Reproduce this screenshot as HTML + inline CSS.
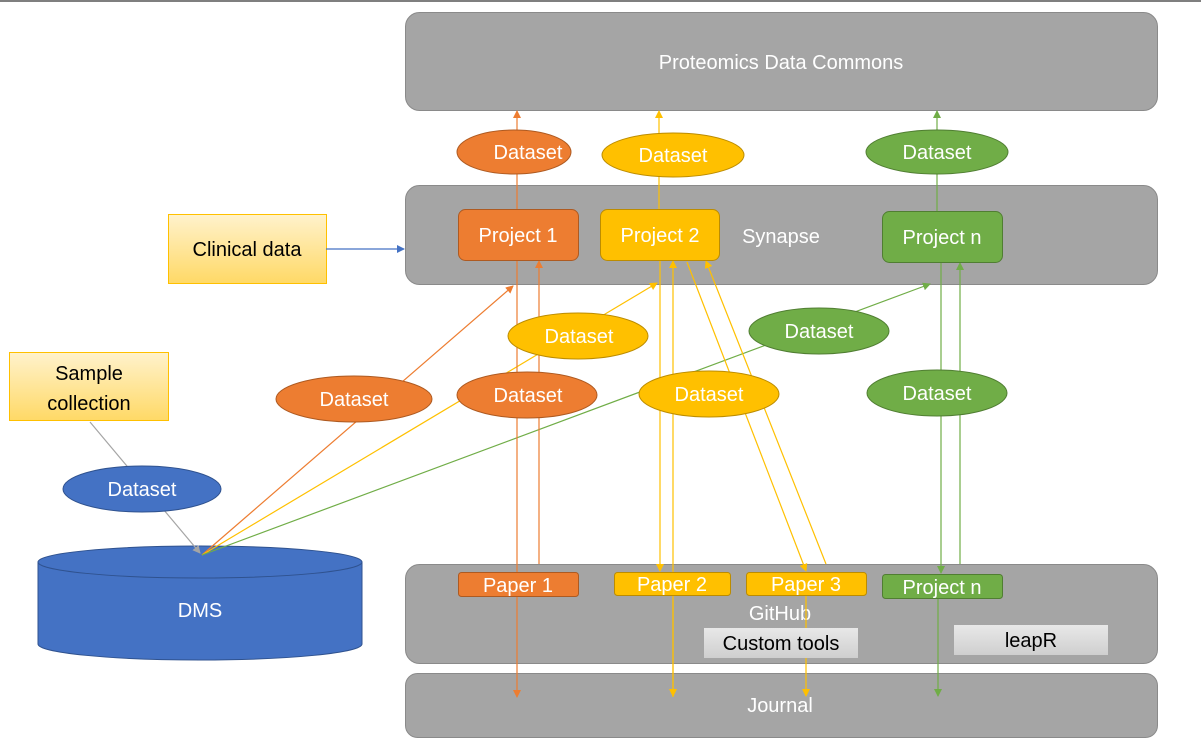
<!DOCTYPE html>
<html><head><meta charset="utf-8"><style>
body{margin:0;background:#fff;}
svg{display:block;font-family:"Liberation Sans",sans-serif;}
</style></head><body>
<svg width="1201" height="742" viewBox="0 0 1201 742">
<defs>
<marker id="ao" markerWidth="8" markerHeight="8" refX="7" refY="4" orient="auto" markerUnits="userSpaceOnUse"><path d="M0,0 L8,4 L0,8z" fill="#ED7D31"/></marker>
<marker id="ay" markerWidth="8" markerHeight="8" refX="7" refY="4" orient="auto" markerUnits="userSpaceOnUse"><path d="M0,0 L8,4 L0,8z" fill="#FFC000"/></marker>
<marker id="ag" markerWidth="8" markerHeight="8" refX="7" refY="4" orient="auto" markerUnits="userSpaceOnUse"><path d="M0,0 L8,4 L0,8z" fill="#70AD47"/></marker>
<marker id="ab" markerWidth="8" markerHeight="8" refX="7" refY="4" orient="auto" markerUnits="userSpaceOnUse"><path d="M0,0 L8,4 L0,8z" fill="#4472C4"/></marker>
<marker id="ak" markerWidth="8" markerHeight="8" refX="7" refY="4" orient="auto" markerUnits="userSpaceOnUse"><path d="M0,0 L8,4 L0,8z" fill="#A5A5A5"/></marker>
<linearGradient id="yg" x1="0" y1="0" x2="0" y2="1"><stop offset="0" stop-color="#FFF2CC"/><stop offset="1" stop-color="#FFD966"/></linearGradient>
<linearGradient id="gg" x1="0" y1="0" x2="0" y2="1"><stop offset="0" stop-color="#e8e8e8"/><stop offset="1" stop-color="#cfcfcf"/></linearGradient>
</defs>
<rect x="0" y="0" width="1201" height="2" fill="#7f7f7f"/>
<g fill="#A5A5A5" stroke="#8a8a8a" stroke-width="1">
<rect x="405.5" y="12.5" width="752" height="98" rx="14"/>
<rect x="405.5" y="185.5" width="752" height="99" rx="14"/>
<rect x="405.5" y="564.5" width="752" height="99" rx="14"/>
<rect x="405.5" y="673.5" width="752" height="64" rx="12"/>
</g>
<g fill="#fff" font-size="20" text-anchor="middle">
<text x="781" y="69">Proteomics Data Commons</text>
<text x="781" y="243">Synapse</text>
<text x="780" y="620">GitHub</text>
<text x="780" y="712">Journal</text>
</g>
<rect x="168.5" y="214.5" width="158" height="69" fill="url(#yg)" stroke="#FFC000"/>
<text x="247" y="256" font-size="20" text-anchor="middle">Clinical data</text>
<rect x="9.5" y="352.5" width="159" height="68" fill="url(#yg)" stroke="#FFC000"/>
<text x="89" y="380" font-size="20" text-anchor="middle">Sample</text>
<text x="89" y="410" font-size="20" text-anchor="middle">collection</text>
<!-- DMS -->
<path d="M38,562 L38,644 A162,16 0 0 0 362,644 L362,562" fill="#4472C4" stroke="#2F528F"/>
<ellipse cx="200" cy="562" rx="162" ry="16" fill="#4472C4" stroke="#2F528F"/>
<text x="200" y="617" font-size="20" fill="#fff" text-anchor="middle">DMS</text>
<!-- lines -->
<g stroke-width="1.2" fill="none">
<line x1="326" y1="249" x2="404" y2="249" stroke="#4472C4" marker-end="url(#ab)"/>
<line x1="90" y1="422" x2="200" y2="553" stroke="#A5A5A5" marker-end="url(#ak)"/>
<line x1="202" y1="555" x2="513" y2="286" stroke="#ED7D31" marker-end="url(#ao)"/>
<line x1="202" y1="555" x2="657" y2="283" stroke="#FFC000" marker-end="url(#ay)"/>
<line x1="202" y1="555" x2="930" y2="284" stroke="#70AD47" marker-end="url(#ag)"/>
<line x1="517" y1="209" x2="517" y2="111" stroke="#ED7D31" marker-end="url(#ao)"/>
<line x1="517" y1="260" x2="517" y2="697" stroke="#ED7D31" marker-end="url(#ao)"/>
<line x1="539" y1="564" x2="539" y2="261" stroke="#ED7D31" marker-end="url(#ao)"/>
<line x1="659" y1="209" x2="659" y2="111" stroke="#FFC000" marker-end="url(#ay)"/>
<line x1="660" y1="260" x2="660" y2="571" stroke="#FFC000" marker-end="url(#ay)"/>
<line x1="673" y1="697" x2="673" y2="261" stroke="#FFC000" marker-end="url(#ay)"/>
<line x1="673" y1="600" x2="673" y2="696" stroke="#FFC000" marker-end="url(#ay)"/>
<line x1="687" y1="262" x2="806" y2="571" stroke="#FFC000" marker-end="url(#ay)"/>
<line x1="826" y1="564" x2="706" y2="261" stroke="#FFC000" marker-end="url(#ay)"/>
<line x1="806" y1="596" x2="806" y2="696" stroke="#FFC000" marker-end="url(#ay)"/>
<line x1="937" y1="211" x2="937" y2="111" stroke="#70AD47" marker-end="url(#ag)"/>
<line x1="941" y1="262" x2="941" y2="573" stroke="#70AD47" marker-end="url(#ag)"/>
<line x1="960" y1="564" x2="960" y2="263" stroke="#70AD47" marker-end="url(#ag)"/>
<line x1="938" y1="598" x2="938" y2="696" stroke="#70AD47" marker-end="url(#ag)"/>
</g>
<!-- project boxes -->
<rect x="458.5" y="209.5" width="120" height="51" rx="7" fill="#ED7D31" stroke="#AE5A21"/>
<rect x="600.5" y="209.5" width="119" height="51" rx="7" fill="#FFC000" stroke="#BC8C00"/>
<rect x="882.5" y="211.5" width="120" height="51" rx="7" fill="#70AD47" stroke="#507E32"/>
<g fill="#fff" font-size="20" text-anchor="middle">
<text x="518" y="242">Project 1</text>
<text x="660" y="242">Project 2</text>
<text x="942" y="244">Project n</text>
</g>
<!-- papers -->
<rect x="458.5" y="572.5" width="120" height="24" rx="3" fill="#ED7D31" stroke="#AE5A21"/>
<rect x="614.5" y="572.5" width="116" height="23" rx="3" fill="#FFC000" stroke="#BC8C00"/>
<rect x="746.5" y="572.5" width="120" height="23" rx="3" fill="#FFC000" stroke="#BC8C00"/>
<rect x="882.5" y="574.5" width="120" height="24" rx="3" fill="#70AD47" stroke="#507E32"/>
<g fill="#fff" font-size="20" text-anchor="middle">
<text x="518" y="592">Paper 1</text>
<text x="672" y="591">Paper 2</text>
<text x="806" y="591">Paper 3</text>
<text x="942" y="594">Project n</text>
</g>
<rect x="704" y="628" width="154" height="30" fill="url(#gg)"/>
<text x="781" y="650" font-size="20" text-anchor="middle">Custom tools</text>
<rect x="954" y="625" width="154" height="30" fill="url(#gg)"/>
<text x="1031" y="647" font-size="20" text-anchor="middle">leapR</text>
<!-- ellipses -->
<g stroke-width="1">
<ellipse cx="514" cy="152" rx="57" ry="22" fill="#ED7D31" stroke="#AE5A21"/>
<ellipse cx="673" cy="155" rx="71" ry="22" fill="#FFC000" stroke="#BC8C00"/>
<ellipse cx="937" cy="152" rx="71" ry="22" fill="#70AD47" stroke="#507E32"/>
<ellipse cx="578" cy="336" rx="70" ry="23" fill="#FFC000" stroke="#BC8C00"/>
<ellipse cx="819" cy="331" rx="70" ry="23" fill="#70AD47" stroke="#507E32"/>
<ellipse cx="354" cy="399" rx="78" ry="23" fill="#ED7D31" stroke="#AE5A21"/>
<ellipse cx="527" cy="395" rx="70" ry="23" fill="#ED7D31" stroke="#AE5A21"/>
<ellipse cx="709" cy="394" rx="70" ry="23" fill="#FFC000" stroke="#BC8C00"/>
<ellipse cx="937" cy="393" rx="70" ry="23" fill="#70AD47" stroke="#507E32"/>
<ellipse cx="142" cy="489" rx="79" ry="23" fill="#4472C4" stroke="#2F528F"/>
</g>
<g fill="#fff" font-size="20" text-anchor="middle">
<text x="528" y="159">Dataset</text>
<text x="673" y="162">Dataset</text>
<text x="937" y="159">Dataset</text>
<text x="579" y="343">Dataset</text>
<text x="819" y="338">Dataset</text>
<text x="354" y="406">Dataset</text>
<text x="528" y="402">Dataset</text>
<text x="709" y="401">Dataset</text>
<text x="937" y="400">Dataset</text>
<text x="142" y="496">Dataset</text>
</g>
</svg>
</body></html>
